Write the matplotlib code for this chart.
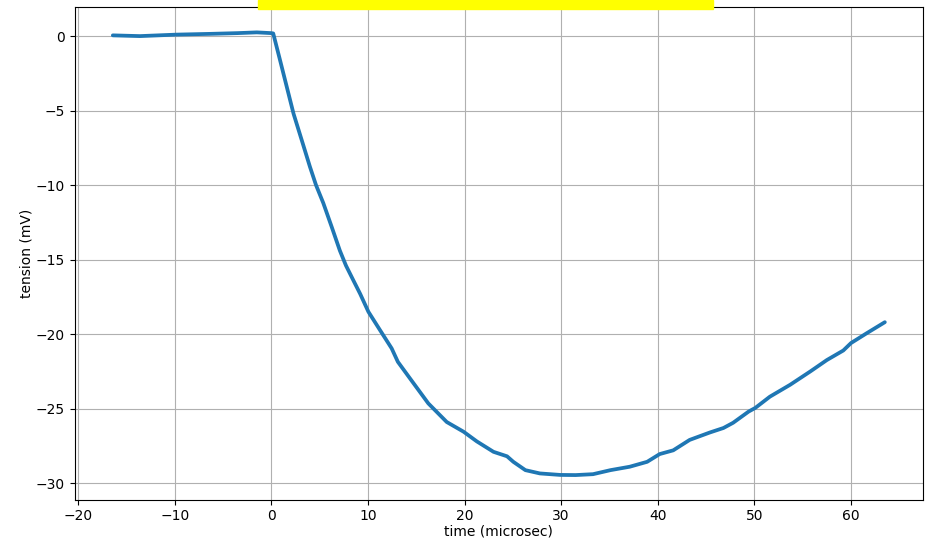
import numpy as np
import matplotlib.pyplot as plt
from matplotlib.patches import Rectangle

# trace (time in microsec, tension in mV)
time_us = [-16.4, -13.6, -9.8, -6.35, -3.5, -1.5, 0.0, 0.2,
           0.9, 1.6, 2.3, 3.15, 4.0, 4.63, 5.38, 6.25, 7.1, 7.73,
           8.5, 9.2, 10.05, 11.25, 12.46, 13.1, 14.35, 16.25, 18.16,
           19.9, 21.27, 23.0, 24.4, 25.05, 26.3, 27.8, 29.9, 31.5, 33.3,
           35.1, 37.1, 38.9, 40.2, 41.6, 43.3, 45.4, 46.8, 47.8, 49.4,
           50.1, 51.6, 53.7, 55.8, 57.5, 59.2, 60.0, 61.6, 63.5]
tension_mV = [0.05, 0.0, 0.1, 0.15, 0.2, 0.25, 0.2, 0.18,
              -1.6, -3.4, -5.2, -6.98, -8.77, -10.0, -11.2, -12.8,
              -14.4, -15.4, -16.4, -17.3, -18.5, -19.73, -20.96, -21.86,
              -22.97, -24.65, -25.9, -26.55, -27.2, -27.9, -28.2, -28.57,
              -29.13, -29.35, -29.45, -29.46, -29.4, -29.13, -28.9, -28.57,
              -28.05, -27.8, -27.1, -26.6, -26.3, -25.95, -25.2, -24.95,
              -24.2, -23.4, -22.5, -21.74, -21.1, -20.6, -19.95, -19.2]

fig = plt.figure(figsize=(9.31, 5.42), dpi=100)
ax = fig.add_axes([0.0802, 0.0784, 0.9112, 0.9086])

ax.plot(time_us, tension_mV, color='#1f77b4', lw=2.7, solid_capstyle='round')
ax.grid(True)
ax.set_xlabel("time (microsec)")
ax.set_ylabel("tension (mV)")
ax.set_xlim(-20.35, 67.45)
ax.set_ylim(-31.1, 1.95)
ax.xaxis.set_label_coords(0.5, -0.05)
ax.yaxis.set_label_coords(-0.048, 0.5)

# yellow box at the top edge
fig.patches.append(Rectangle((258 / 931, 1 - 8.5 / 542), 455 / 931, 8.5 / 542,
                             transform=fig.transFigure, color='yellow',
                             zorder=10))

fig.savefig("out.png", dpi=100)
